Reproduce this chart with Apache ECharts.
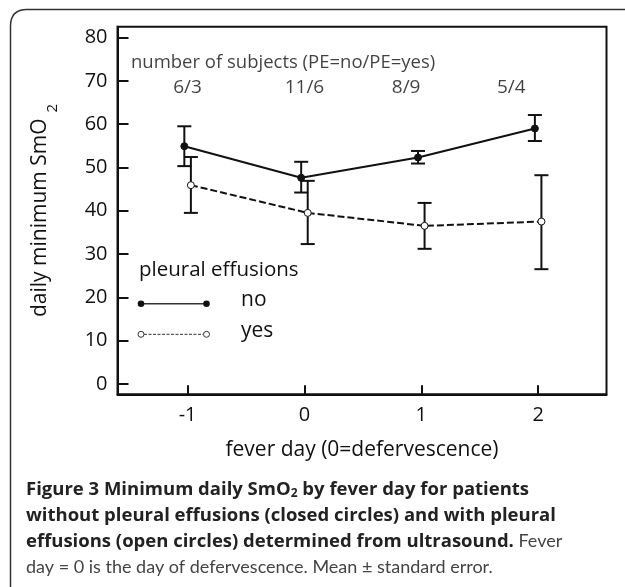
<!DOCTYPE html>
<html>
<head>
<meta charset="utf-8">
<script src="https://cdn.jsdelivr.net/npm/echarts@6/dist/echarts.min.js"></script>
<style>
  html, body { margin: 0; padding: 0; background: #fff; }
  #chart { width: 625px; height: 587px; }
</style>
</head>
<body>
<div id="chart"></div>
<script>
// 数据
const days = [-1, 0, 1, 2];
const noMean = [54.9, 47.6, 52.3, 59.0];
const noLow = [50.3, 44.2, 50.9, 56.1];
const noHigh = [59.5, 51.3, 53.8, 62.1];
const yesMean = [45.9, 39.5, 36.5, 37.5];
const yesLow = [39.5, 32.3, 31.2, 26.5];
const yesHigh = [52.4, 46.9, 41.8, 48.2];
const subjectCounts = ['6/3', '11/6', '8/9', '5/4'];
const countLabelX = [-1, 0, 0.87, 1.77];
const xTicks = [-1, 0, 1, 2];
const yTicks = [0, 10, 20, 30, 40, 50, 60, 70, 80];

const FONT = '"Open Sans", "DejaVu Sans", sans-serif';
const NOTE_FONT = 'Lato, "Open Sans", sans-serif';
const INK = '#111';
const DODGE = 0.028;

const chart = echarts.init(document.getElementById('chart'));

// 误差线
function errorBarSeries(low, high, shift) {
  return {
    type: 'custom',
    data: days.map((d, i) => [d + shift, low[i], high[i]]),
    z: 3,
    renderItem: function (params, api) {
      const top = api.coord([api.value(0), api.value(2)]);
      const bot = api.coord([api.value(0), api.value(1)]);
      const half = 7;
      const style = { stroke: INK, lineWidth: 2 };
      return {
        type: 'group',
        children: [
          { type: 'line', shape: { x1: top[0], y1: top[1], x2: bot[0], y2: bot[1] }, style },
          { type: 'line', shape: { x1: top[0] - half, y1: top[1], x2: top[0] + half, y2: top[1] }, style },
          { type: 'line', shape: { x1: bot[0] - half, y1: bot[1], x2: bot[0] + half, y2: bot[1] }, style }
        ]
      };
    }
  };
}

const option = {
  animation: false,
  textStyle: { fontFamily: FONT },
  grid: {
    left: 117.5, right: 18.5, top: 26.7, bottom: 192.7,
    show: true, borderColor: INK, borderWidth: 2, backgroundColor: 'transparent'
  },
  xAxis: {
    type: 'value',
    min: -1.6,
    max: 2.585,
    name: 'fever day (0=defervescence)',
    nameLocation: 'middle',
    nameGap: 45,
    nameTextStyle: { fontSize: 21, color: INK, fontFamily: FONT },
    axisLine: { show: true, onZero: false, lineStyle: { color: INK, width: 2 } },
    axisTick: { show: true, inside: true, length: 9, customValues: xTicks, lineStyle: { color: INK, width: 2 } },
    axisLabel: { customValues: xTicks, fontSize: 20, color: INK, margin: 11, fontFamily: FONT },
    splitLine: { show: false }
  },
  yAxis: {
    type: 'value',
    min: -2.4,
    max: 82.5,
    name: '{a|daily minimum SmO}{s|2}',
    nameLocation: 'middle',
    nameRotate: 90,
    nameGap: 57,
    nameTextStyle: {
      color: INK,
      rich: {
        a: { fontSize: 21, color: INK, fontFamily: FONT, lineHeight: 25, verticalAlign: 'top' },
        s: { fontSize: 15, color: INK, fontFamily: FONT, padding: [16, 0, 0, 6], verticalAlign: 'top' }
      }
    },
    axisLine: { show: true, onZero: false, lineStyle: { color: INK, width: 2 } },
    axisTick: { show: true, inside: true, length: 11, customValues: yTicks, lineStyle: { color: INK, width: 2 } },
    axisLabel: { customValues: yTicks, fontSize: 20, color: INK, margin: 10, fontFamily: FONT },
    splitLine: { show: false }
  },
  series: [
    {
      name: 'no',
      type: 'line',
      data: days.map((d, i) => [d - DODGE, noMean[i]]),
      z: 4,
      lineStyle: { color: INK, width: 2 },
      symbol: 'circle',
      symbolSize: 7,
      itemStyle: { color: INK, borderColor: INK, borderWidth: 1 }
    },
    {
      name: 'yes',
      type: 'line',
      data: days.map((d, i) => [d + DODGE, yesMean[i]]),
      z: 4,
      lineStyle: { color: INK, width: 2, type: [7, 3] },
      symbol: 'circle',
      symbolSize: 7,
      itemStyle: { color: '#fff', borderColor: INK, borderWidth: 1 }
    },
    errorBarSeries(noLow, noHigh, -DODGE),
    errorBarSeries(yesLow, yesHigh, DODGE),
    {
      // 受试者人数标注
      type: 'scatter',
      symbolSize: 0,
      silent: true,
      data: countLabelX.map((x, i) => ({ value: [x, 68.4], name: subjectCounts[i] })),
      label: {
        show: true,
        position: 'inside',
        formatter: p => p.name,
        fontSize: 19,
        color: INK,
        fontFamily: FONT
      }
    },
    {
      type: 'scatter',
      symbolSize: 0,
      silent: true,
      data: [{ value: [-1.485, 74.2], name: 'number of subjects (PE=no/PE=yes)' }],
      label: {
        show: true,
        position: 'right',
        distance: 0,
        formatter: p => p.name,
        fontSize: 18.5,
        color: INK,
        fontFamily: FONT
      }
    }
  ],
  graphic: [
    // 外框
    {
      type: 'polyline',
      shape: { points: [[10.5, 587], [10.5, 26]] },
      style: { fill: null, stroke: '#333', lineWidth: 1.5 }
    },
    {
      type: 'bezierCurve',
      shape: { x1: 10.5, y1: 26, cpx1: 10.5, cpy1: 9.5, x2: 27, y2: 9.5 },
      style: { fill: null, stroke: '#333', lineWidth: 1.5 }
    },
    {
      type: 'polyline',
      shape: { points: [[27, 9.5], [625, 9.5]] },
      style: { fill: null, stroke: '#333', lineWidth: 1.5 }
    },
    // 图例
    {
      type: 'text', left: 139, top: 260,
      style: { text: 'pleural effusions', fontSize: 20.5, fill: INK, fontFamily: FONT }
    },
    { type: 'line', shape: { x1: 141, y1: 303.7, x2: 206.5, y2: 303.7 }, style: { stroke: '#333', lineWidth: 1.5 } },
    { type: 'circle', shape: { cx: 141, cy: 303.7, r: 3.3 }, style: { fill: INK } },
    { type: 'circle', shape: { cx: 206.5, cy: 303.7, r: 3.3 }, style: { fill: INK } },
    {
      type: 'text', left: 241, top: 290,
      style: { text: 'no', fontSize: 21, fill: INK, fontFamily: FONT }
    },
    { type: 'line', shape: { x1: 144, y1: 334.3, x2: 203.5, y2: 334.3 }, style: { stroke: '#333', lineWidth: 1, lineDash: [3, 1.5] } },
    { type: 'circle', shape: { cx: 141, cy: 334.3, r: 3 }, style: { fill: '#fff', stroke: '#333', lineWidth: 1 } },
    { type: 'circle', shape: { cx: 206.5, cy: 334.3, r: 3 }, style: { fill: '#fff', stroke: '#333', lineWidth: 1 } },
    {
      type: 'text', left: 241, top: 321,
      style: { text: 'yes', fontSize: 21, fill: INK, fontFamily: FONT }
    },
    // 图注
    {
      type: 'text', left: 26, top: 479,
      style: {
        text: '{b|Figure 3 Minimum daily SmO}{bs|2}{b| by fever day for patients}\n' +
              '{b|without pleural effusions (closed circles) and with pleural}\n' +
              '{b|effusions (open circles) determined from ultrasound.}{n| Fever}\n' +
              '{n|day = 0 is the day of defervescence. Mean ± standard error.}',
        fontFamily: FONT,
        rich: {
          b: { fontSize: 18.5, fontWeight: 'bold', fill: '#222', lineHeight: 26, fontFamily: FONT },
          bs: { fontSize: 12, fontWeight: 'bold', fill: '#222', lineHeight: 26, padding: [9, 0, 0, 0], fontFamily: FONT },
          n: { fontSize: 18, fill: '#444', lineHeight: 26, fontFamily: NOTE_FONT }
        }
      }
    }
  ]
};

chart.setOption(option);
</script>
</body>
</html>
